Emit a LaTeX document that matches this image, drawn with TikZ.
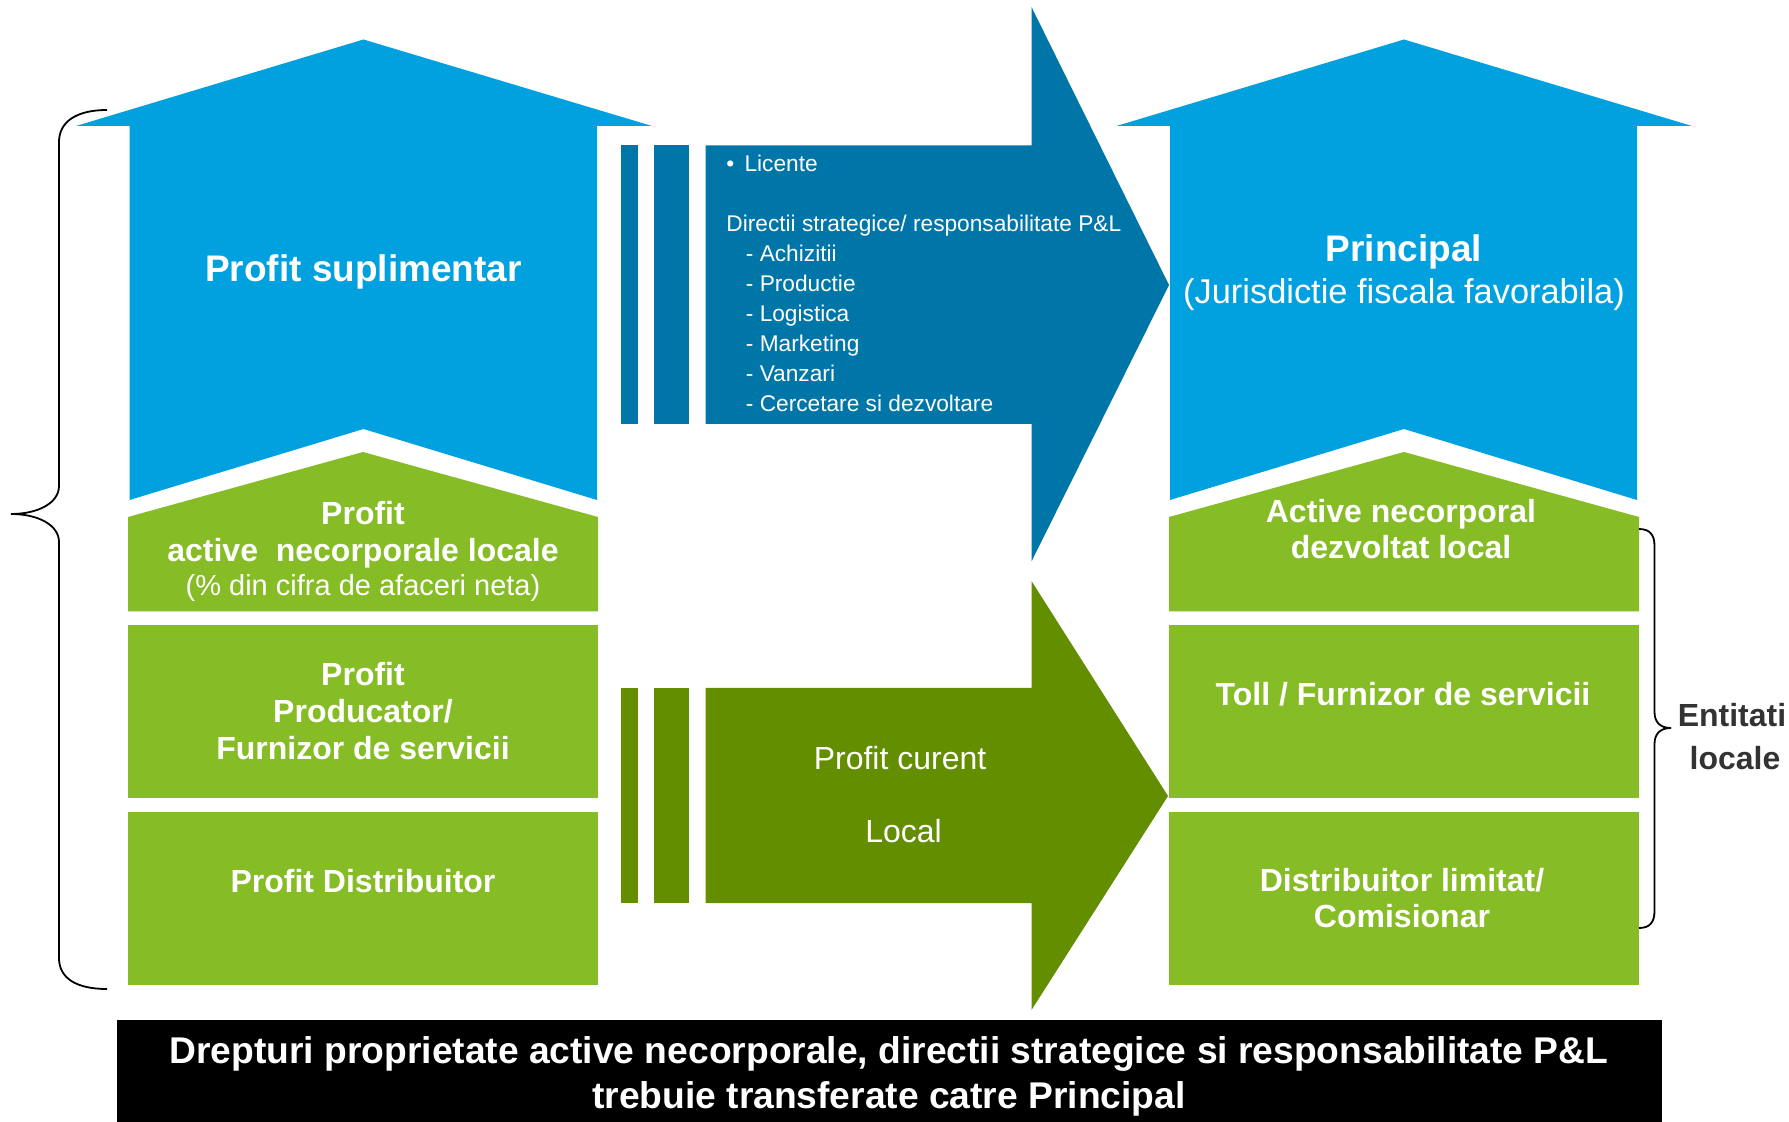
\documentclass[tikz,border=0pt]{standalone}
\usepackage{fontspec}
\setmainfont{Liberation Sans}
\definecolor{upblue}{RGB}{0,161,222}
\definecolor{flowteal}{RGB}{0,118,168}
\definecolor{boxgreen}{RGB}{134,188,37}
\definecolor{flowgreen}{RGB}{98,142,0}
\definecolor{notegray}{RGB}{51,51,51}
\begin{document}
\begin{tikzpicture}[x=0.5pt,y=-0.5pt,
	bigtext/.style={text=white, inner sep=0pt, align=center, font=\bfseries\fontsize{18.5}{20.8}\selectfont},
	boxtext/.style={text=white, inner sep=0pt, align=center, font=\bfseries\fontsize{16}{18.3}\selectfont},
	flowtext/.style={text=white, inner sep=0pt, font=\fontsize{11.35}{15}\selectfont},
	brace/.style={black, line width=0.9pt}]
				\useasboundingbox (0,0) rectangle (1789,1122);
				% up arrows
				\fill[upblue] (129.5,500) -- (129.5,126) -- (76,126) -- (363.5,39.5) -- (652,126) -- (597,126) -- (597,500) -- (363.5,429) -- cycle;
				\fill[upblue] (1170,500) -- (1170,126) -- (1116.5,126) -- (1404,39.5) -- (1692,126) -- (1637,126) -- (1637,500) -- (1404,429) -- cycle;
				% green blocks
				\fill[boxgreen] (128,611.5) -- (128,517) -- (363,452) -- (598,517) -- (598,611.5) -- cycle;
				\fill[boxgreen] (1169,611.5) -- (1169,517) -- (1404,452) -- (1639,517) -- (1639,611.5) -- cycle;
				\foreach \x in {128,1169} {
					\fill[boxgreen] (\x,625) rectangle ++(470,172.5);
					\fill[boxgreen] (\x,812) rectangle ++(470,173);
				}
				% flow arrows
				\fill[flowteal] (620.5,145) rectangle (637.5,424);
				\fill[flowteal] (654,145) rectangle (689,424);
				\fill[flowteal] (705.5,145.5) -- (1031.5,145.5) -- (1031.5,7) -- (1169,285) -- (1031.5,561.5) -- (1031.5,424) -- (705.5,424) -- cycle;
				\fill[flowgreen] (620.5,688) rectangle (637.5,903);
				\fill[flowgreen] (654,688) rectangle (689,903);
				\fill[flowgreen] (705.5,688) -- (1031.5,688) -- (1031.5,581) -- (1168,796) -- (1031.5,1010) -- (1031.5,903) -- (705.5,903) -- cycle;
				% braces
				\draw[brace] (107,110) .. controls (76,110) and (59,122) .. (59,142) -- (59,486) .. controls (59,503) and (38,514) .. (11,514) .. controls (38,514) and (59,525) .. (59,542) -- (59,958) .. controls (59,978) and (76,989) .. (107,989);
				\draw[brace] (1639,529) .. controls (1650,529) and (1654.5,535) .. (1654.5,546) -- (1654.5,712) .. controls (1654.5,722) and (1660,728) .. (1671,728) .. controls (1660,728) and (1654.5,734) .. (1654.5,744) -- (1654.5,911) .. controls (1654.5,922) and (1650,928) .. (1639,928);
				% bottom bar
				\fill[black] (117,1019.5) rectangle (1661.5,1122);
				\node[bigtext, anchor=base] (extra) at (363.5,281.5) {Profit suplimentar};
				\node[boxtext] (intang) at (363,551.5) {Profit\\active\ \ necorporale locale\\[-1.5pt]{\mdseries\fontsize{14.5}{18}\selectfont(\% din cifra de afaceri neta)}};
				\node[boxtext] (producer) at (363,711) {Profit\\Producator/\\Furnizor de servicii};
				\node[boxtext, anchor=base] (distrib) at (363,892.5) {Profit Distribuitor};
				\node[bigtext] (principal) at (1404,272.5) {Principal\\{\mdseries\fontsize{17.2}{20.8}\selectfont(Jurisdictie fiscala favorabila)}};
				\node[boxtext] (devloc) at (1401,529) {Active necorporal\\dezvoltat local};
				\node[boxtext, anchor=base] (toll) at (1403,705) {Toll / Furnizor de servicii};
				\node[boxtext] (limited) at (1402,898) {Distribuitor limitat/\\Comisionar};
				\node[boxtext, text=notegray, font=\bfseries\fontsize{16}{21.5}\selectfont] (locals) at (1732,737) {Entitati\\\hspace*{3pt}locale};
				\node[boxtext, font=\fontsize{16}{18}\selectfont] (current) at (900,794.5) {Profit curent\\[18.6pt]\hspace*{3.5pt}Local};
				\node[flowtext, align=left, anchor=north west] (rights) at (726,154.5) {\textbullet\hspace{0.45em}Licente\\[15.2pt]
					Directii strategice/ responsabilitate P\&L\\
					\hspace*{9.75pt}- Achizitii\\
					\hspace*{9.75pt}- Productie\\
					\hspace*{9.75pt}- Logistica\\
					\hspace*{9.75pt}- Marketing\\
					\hspace*{9.75pt}- Vanzari\\
					\hspace*{9.75pt}- Cercetare si dezvoltare};
				\node[bigtext, font=\bfseries\fontsize{18.6}{22.5}\selectfont] (transfer) at (889,1076) {Drepturi proprietate active necorporale, directii strategice si responsabilitate P\&L\\trebuie transferate catre Principal};
			\end{tikzpicture}
\end{document}
